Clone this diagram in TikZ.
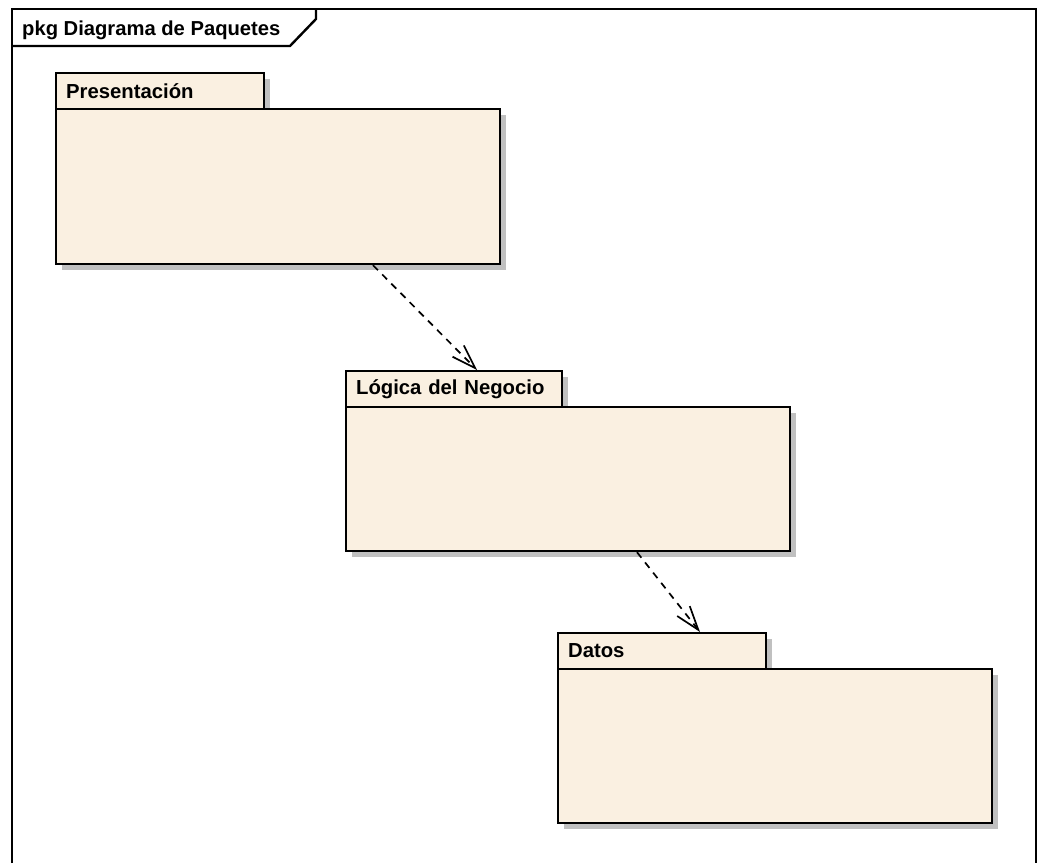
\documentclass[tikz,border=0pt]{standalone}
\usepackage{fontspec}
\setmainfont{Liberation Sans}
\usetikzlibrary{arrows.meta,shadows,calc}
\definecolor{pkgfill}{RGB}{250,240,225}
\definecolor{shadowgray}{RGB}{192,192,192}
\begin{document}
\begin{tikzpicture}[x=1pt,y=-1pt,
  pkgshape/.style={draw=black, line width=2.2pt, fill=pkgfill, rectangle, inner sep=0pt, anchor=north west,
    drop shadow={shadow xshift=6pt, shadow yshift=-6pt, fill=shadowgray, opacity=1}},
  pkgtab/.style={pkgshape, font=\bfseries\fontsize{20.3}{24}\selectfont, align=left, inner xsep=10pt, inner ysep=0pt, minimum height=36pt},
  framestyle/.style={draw=black, line width=2.4pt},
  dep/.style={line width=1.7pt, dash pattern=on 7pt off 6pt,
    -{Straight Barb[length=24pt,width=16pt,line width=1.7pt]}}
]
\fill[white] (0,0) rectangle (1044,863);
\useasboundingbox (0,0) rectangle (1044,863);
% frame
\draw[framestyle] (12,863) -- (12,9) -- (1036,9) -- (1036,863);
\draw[framestyle] (12,46) -- (290,46) -- (316,19) -- (316,9);
\node[anchor=base west, font=\bfseries\fontsize{20.2}{24}\selectfont, inner sep=0pt] (title) at (22,35) {pkg Diagrama de Paquetes};
% tabs
\node[pkgtab, text width=188pt, minimum width=208pt] (prestab) at (55,72) {Presentación};
\node[pkgtab, text width=196pt, minimum width=216pt] (logtab) at (345,370) {Lógica del Negocio};
\node[pkgtab, text width=188pt, minimum width=208pt] (datostab) at (557,632) {Datos};
% bodies
\node[pkgshape, minimum width=444pt, minimum height=155pt] (pres) at (55,108) {};
\node[pkgshape, minimum width=444pt, minimum height=144pt] (logica) at (345,406) {};
\node[pkgshape, minimum width=434pt, minimum height=154pt] (datos) at (557,668) {};
% dependencies
\draw[dep] ($(pres.south west)+(318,0)$) -- ($(logtab.north west)+(132,0)$);
\draw[dep] ($(logica.south west)+(292,0)$) -- ($(datostab.north west)+(143,0)$);
\end{tikzpicture}
\end{document}
